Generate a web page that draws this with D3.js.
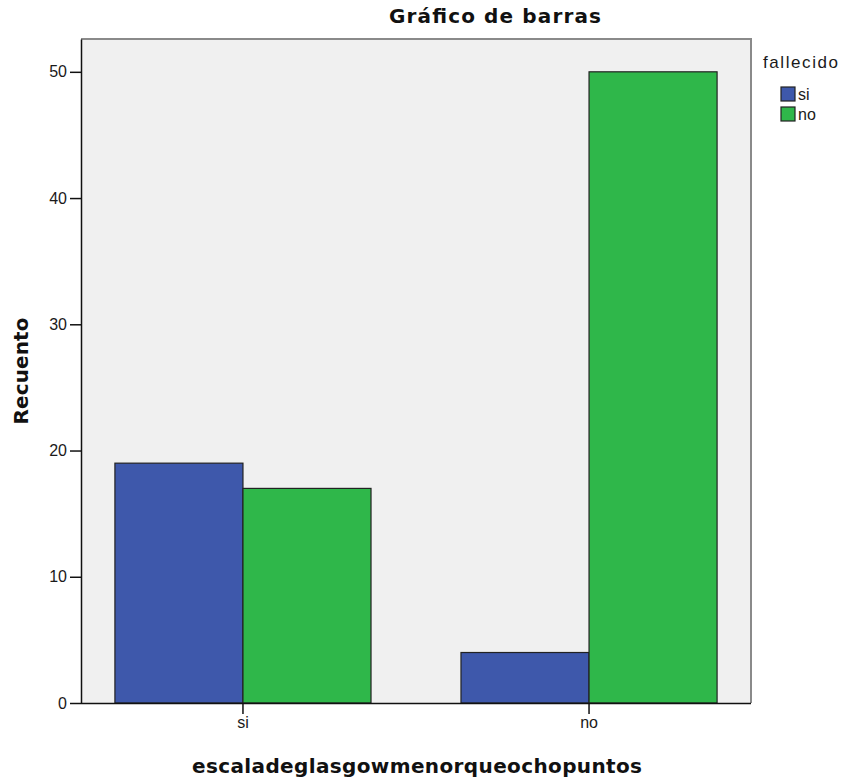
<!DOCTYPE html>
<html>
<head>
<meta charset="utf-8">
<script src="https://cdn.jsdelivr.net/npm/d3@7"></script>
<style>
  html, body { margin: 0; padding: 0; background: #fff; }
  svg text { font-family: "Liberation Sans", Arial, sans-serif; fill: #1a1a1a; }
  svg text.heading { font-family: "DejaVu Sans", Verdana, sans-serif; font-weight: bold; fill: #111; }
</style>
</head>
<body>
<svg id="chart" width="843" height="784"></svg>
<script>
// Categories on the x axis (escala de Glasgow < 8 puntos)
const categories = ["si", "no"];
// Legend groups (fallecido)
const groups = ["si", "no"];
// Counts per category for each fallecido group
const fallecidoSi = [19, 4];
const fallecidoNo = [17, 50];
const yTicks = [0, 10, 20, 30, 40, 50];
const colors = ["#3e58ab", "#2fb74a"];

const rows = categories.map((c, i) => ({
  category: c,
  values: [
    { group: groups[0], value: fallecidoSi[i] },
    { group: groups[1], value: fallecidoNo[i] }
  ]
}));

const svg = d3.select("#chart");
const plot = { left: 81, right: 751, top: 39, bottom: 703 };

const x = d3.scaleBand()
  .domain(categories)
  .range([plot.left, plot.right])
  .paddingInner(0.26)
  .paddingOuter(0.098);

const xInner = d3.scaleBand()
  .domain(groups)
  .range([0, x.bandwidth()])
  .padding(0);

const y = d3.scaleLinear()
  .domain([0, 52.6])
  .range([plot.bottom, plot.top]);

const color = d3.scaleOrdinal().domain(groups).range(colors);

// plot background
svg.append("rect")
  .attr("x", plot.left).attr("y", plot.top)
  .attr("width", plot.right - plot.left)
  .attr("height", plot.bottom - plot.top)
  .attr("fill", "#f0f0f0");

// top and right frame lines
svg.append("path")
  .attr("d", `M${plot.left},${plot.top}H${plot.right}V${plot.bottom}`)
  .attr("fill", "none")
  .attr("stroke", "#8a8a8a")
  .attr("stroke-width", 2);

// bars
const g = svg.append("g")
  .selectAll("g")
  .data(rows)
  .join("g")
  .attr("transform", d => `translate(${x(d.category)},0)`);

g.selectAll("rect")
  .data(d => d.values)
  .join("rect")
  .attr("x", d => xInner(d.group))
  .attr("y", d => y(d.value))
  .attr("width", xInner.bandwidth())
  .attr("height", d => y(0) - y(d.value))
  .attr("fill", d => color(d.group))
  .attr("stroke", "#222")
  .attr("stroke-width", 1.2);

// y axis
const yAxis = svg.append("g")
  .attr("transform", `translate(${plot.left},0)`)
  .call(d3.axisLeft(y).tickValues(yTicks).tickSize(11).tickPadding(3).tickSizeOuter(0));
yAxis.select(".domain").attr("stroke", "#111").attr("stroke-width", 1.5);
yAxis.selectAll(".tick line").attr("stroke", "#111").attr("stroke-width", 1.5);
yAxis.selectAll(".tick text").attr("font-size", 16).attr("font-family", "Liberation Sans, Arial, sans-serif").attr("fill", "#222");

// x axis
const xAxis = svg.append("g")
  .attr("transform", `translate(0,${plot.bottom})`)
  .call(d3.axisBottom(x).tickSize(11).tickPadding(3).tickSizeOuter(0));
xAxis.select(".domain").attr("stroke", "#111").attr("stroke-width", 1.5)
  .attr("d", `M${plot.left},0.5H${plot.right}`);
xAxis.selectAll(".tick line").attr("stroke", "#111").attr("stroke-width", 1.5);
xAxis.selectAll(".tick text").attr("font-size", 16).attr("font-family", "Liberation Sans, Arial, sans-serif").attr("fill", "#222");

// title
svg.append("text")
  .attr("class", "heading")
  .attr("x", 495).attr("y", 23)
  .attr("text-anchor", "middle")
  .attr("font-size", 20)
  .attr("textLength", 212).attr("lengthAdjust", "spacing")
  .text("Gráfico de barras");

// axis titles
svg.append("text")
  .attr("class", "heading")
  .attr("x", 417).attr("y", 773)
  .attr("text-anchor", "middle")
  .attr("font-size", 20)
  .attr("textLength", 450).attr("lengthAdjust", "spacing")
  .text("escaladeglasgowmenorqueochopuntos");

svg.append("text")
  .attr("class", "heading")
  .attr("transform", "translate(28,371) rotate(-90)")
  .attr("text-anchor", "middle")
  .attr("font-size", 20)
  .attr("textLength", 107).attr("lengthAdjust", "spacing")
  .text("Recuento");

// legend
const legend = svg.append("g");
legend.append("text")
  .attr("x", 763).attr("y", 68)
  .attr("font-size", 17)
  .attr("textLength", 75).attr("lengthAdjust", "spacing")
  .text("fallecido");

const items = legend.selectAll("g.item")
  .data(groups)
  .join("g")
  .attr("class", "item")
  .attr("transform", (d, i) => `translate(781,${87 + i * 20})`);
items.append("rect")
  .attr("width", 14).attr("height", 14)
  .attr("fill", d => color(d))
  .attr("stroke", "#222").attr("stroke-width", 1.2);
items.append("text")
  .attr("x", 17).attr("y", 13)
  .attr("font-size", 16)
  .text(d => d);
</script>
</body>
</html>
